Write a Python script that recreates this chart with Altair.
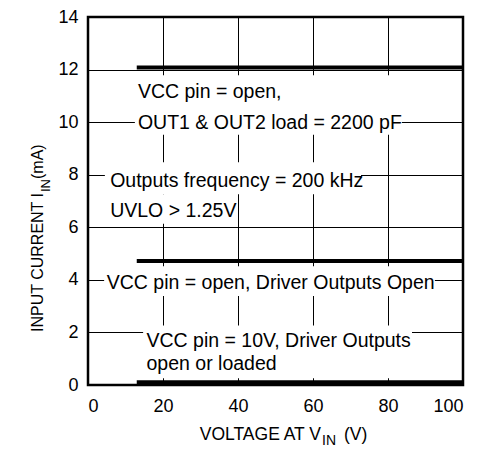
import altair as alt
import pandas as pd

# ---- data ----
curve_names = ["VCC open, 2200 pF", "VCC open, outputs open", "VCC 10V"]
curve_v_start = [13, 13, 13]
curve_v_end = [100, 100, 100]
curve_current = [12.08, 4.72, 0.1]

ann_text = [
    "VCC pin = open,",
    "OUT1 & OUT2 load = 2200 pF",
    "Outputs frequency = 200 kHz",
    "UVLO > 1.25V",
    "VCC pin = open, Driver Outputs Open",
    "VCC pin = 10V, Driver Outputs",
    "open or loaded",
]
ann_x = [13.3, 13.3, 5.9, 5.9, 5.0, 15.6, 15.6]
ann_y = [10.91, 9.75, 7.53, 6.40, 3.65, 1.44, 0.56]

box_x1 = [12.5, 4.5, 4.5, 4.3, 14.7]
box_x2 = [83.7, 72.8, 39.0, 92.5, 86.4]
box_y1 = [9.52, 7.26, 6.13, 3.39, 0.26]
box_y2 = [11.78, 8.47, 7.26, 4.52, 2.26]

x_ticks = [0, 20, 40, 60, 80, 100]
y_ticks = [0, 2, 4, 6, 8, 10, 12, 14]

FONT = "Liberation Sans"

rows = []
for n, a, b, c in zip(curve_names, curve_v_start, curve_v_end, curve_current):
    rows.append({"series": n, "v": a, "i": c})
    rows.append({"series": n, "v": b, "i": c})
curves = pd.DataFrame(rows)
ann = pd.DataFrame({"text": ann_text, "x": ann_x, "y": ann_y})
boxes = pd.DataFrame({"x1": box_x1, "x2": box_x2, "y1": box_y1, "y2": box_y2})

xs = alt.Scale(domain=[0, 100], nice=False, zero=False)
ys = alt.Scale(domain=[0, 14], nice=False, zero=False)

xaxis = alt.Axis(values=x_ticks, title="", grid=True, ticks=False, domain=False,
                 labelFont=FONT, labelFontSize=18, labelColor="black",
                 labelPadding=12, gridColor="black", gridWidth=1, gridOpacity=1)
yaxis = alt.Axis(values=y_ticks, title="", grid=True, ticks=False, domain=False,
                 labelFont=FONT, labelFontSize=18, labelColor="black",
                 labelPadding=10, gridColor="black", gridWidth=1, gridOpacity=1)

base_axes = alt.Chart(curves).mark_line(strokeWidth=4, color="black", strokeCap="butt").encode(
    x=alt.X("v:Q", scale=xs, axis=xaxis),
    y=alt.Y("i:Q", scale=ys, axis=yaxis),
    detail="series:N",
)

box_layer = alt.Chart(boxes).mark_rect(fill="white").encode(
    x=alt.X("x1:Q", scale=xs), x2="x2:Q",
    y=alt.Y("y1:Q", scale=ys), y2="y2:Q",
)

text_layer = alt.Chart(ann).mark_text(
    align="left", baseline="alphabetic", font=FONT, fontSize=19.5, color="black"
).encode(
    x=alt.X("x:Q", scale=xs), y=alt.Y("y:Q", scale=ys), text="text:N"
)

one = pd.DataFrame({"k": [0]})


def label(txt, x, y, size, align="left", angle=0):
    return alt.Chart(one).mark_text(
        text=txt, align=align, baseline="alphabetic", font=FONT,
        fontSize=size, color="black", angle=angle
    ).encode(x=alt.value(x), y=alt.value(y))


titles = [
    label("VOLTAGE AT V", 233, 423, 17.5, "right"),
    label("IN", 234, 428, 14),
    label("(V)", 256, 423, 17.5),
    label("INPUT CURRENT I", -45, 176, 16, "right", 270),
    label("IN", -38, 175, 13, "left", 270),
    label("(mA)", -45, 162, 16, "left", 270),
]

chart = alt.layer(box_layer, text_layer, base_axes, *titles).properties(
    width=375, height=368,
    autosize=alt.AutoSizeParams(type="none"),
    padding={"left": 80, "top": 9, "right": 6, "bottom": 64},
).configure_view(stroke="black", strokeWidth=2.5)

chart.save("out.html", embed_options={"renderer": "svg", "actions": False})
